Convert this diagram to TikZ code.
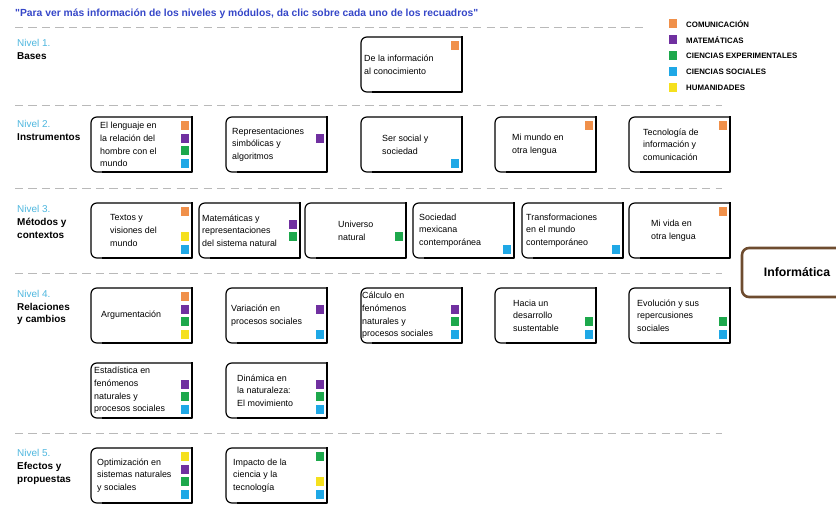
\documentclass[tikz,border=0pt]{standalone}
\usepackage{fontspec}
\setmainfont{Liberation Sans}
\definecolor{comunica}{HTML}{F0904A}
\definecolor{mate}{HTML}{7030A0}
\definecolor{expe}{HTML}{1DA84C}
\definecolor{soci}{HTML}{1FA8E6}
\definecolor{huma}{HTML}{F5E01E}
\definecolor{nivel}{HTML}{4DB6DE}
\definecolor{aviso}{HTML}{3546C8}
\definecolor{cafe}{HTML}{6E4C2F}

% module box: name, left, top, text indent, text, colour squares (slot/colour)
\newcommand{\modulo}[6]{%
  \draw[marco, rounded corners=5pt] (#2+101,#3) -- (#2,#3) -- (#2,#3+55) -- (#2+101,#3+55);
  \draw[marco, line width=1.8pt, line cap=rect] (#2+101,#3) -- (#2+101,#3+55) -- (#2+12,#3+55);
  \node[modtext] (#1) at (#2+#4,#3+27.5) {#5};
  \foreach \s/\col in {#6} \fill[\col] (#2+90,#3+4+12.7*\s) rectangle ++(8,9);
}

\begin{document}
\begin{tikzpicture}[x=0.03cm, y=-0.03cm, line join=round]
  \tikzset{marco/.style={line width=1pt, black},
    modtext/.style={anchor=west, align=left, inner sep=0pt, font=\fontsize{7.6}{10.8}\selectfont},
    nivlbl/.style={anchor=west, align=left, inner sep=0pt, font=\fontsize{8.5}{10.8}\selectfont},
    separador/.style={gray!55, line width=0.8pt, dash pattern=on 7pt off 4.5pt},
    leyenda/.style={anchor=west, inner sep=0pt, font=\fontsize{6.7}{8}\selectfont\bfseries}}
  \useasboundingbox (0,0) rectangle (836,513);

  % heading and separators
  \node[anchor=west, inner sep=0pt, text=aviso, font=\fontsize{8.8}{10}\selectfont\bfseries] (aviso) at (15,14)
    {\textquotedbl Para ver más información de los niveles y módulos, da clic sobre cada uno de los recuadros\textquotedbl};
  \draw[separador] (15,27) -- (648,27);
  \foreach \y in {105,188,273,433} \draw[separador] (15,\y) -- (722,\y);

  % legend
  \foreach \col/\txt [count=\i] in {comunica/COMUNICACIÓN, mate/MATEMÁTICAS,
      expe/CIENCIAS EXPERIMENTALES, soci/CIENCIAS SOCIALES, huma/HUMANIDADES} {
    \fill[\col] (669,8+16*\i-4.5) rectangle ++(8,9);
    \node[leyenda] (ley\i) at (686,8+16*\i) {\txt};
  }

  % level names
  \node[nivlbl] (niv1) at (17,49.5) {\textcolor{nivel}{Nivel 1.}\\ \textbf{Bases}};
  \node[nivlbl] (niv2) at (17,130.5) {\textcolor{nivel}{Nivel 2.}\\ \textbf{Instrumentos}};
  \node[nivlbl] (niv3) at (17,222) {\textcolor{nivel}{Nivel 3.}\\ \textbf{Métodos y}\\ \textbf{contextos}};
  \node[nivlbl] (niv4) at (17,307.5) {\textcolor{nivel}{Nivel 4.}\\ \textbf{Relaciones}\\ \textbf{y cambios}};
  \node[nivlbl] (niv5) at (17,467) {\textcolor{nivel}{Nivel 5.}\\ \textbf{Efectos y}\\ \textbf{propuestas}};

  % level 1
  \modulo{m11}{361}{37}{3}{De la información\\al conocimiento}{0/comunica}
  % level 2
  \modulo{m21}{91}{117}{9}{El lenguaje en\\la relación del\\hombre con el\\mundo}{0/comunica,1/mate,2/expe,3/soci}
  \modulo{m22}{226}{117}{6}{Representaciones\\simbólicas y\\algoritmos}{1/mate}
  \modulo{m23}{361}{117}{21}{Ser social y\\sociedad}{3/soci}
  \modulo{m24}{495}{117}{17}{Mi mundo en\\otra lengua}{0/comunica}
  \modulo{m25}{629}{117}{14}{Tecnología de\\información y\\comunicación}{0/comunica}
  % level 3
  \modulo{m31}{91}{203}{19}{Textos y\\visiones del\\mundo}{0/comunica,2/huma,3/soci}
  \modulo{m32}{199}{203}{3}{Matemáticas y\\representaciones\\del sistema natural}{1/mate,2/expe}
  \modulo{m33}{305}{203}{33}{Universo\\natural}{2/expe}
  \modulo{m34}{413}{203}{6}{Sociedad\\mexicana\\contemporánea}{3/soci}
  \modulo{m35}{522}{203}{4}{Transformaciones\\en el mundo\\contemporáneo}{3/soci}
  \modulo{m36}{629}{203}{22}{Mi vida en\\otra lengua}{0/comunica}
  % level 4
  \modulo{m41}{91}{288}{10}{Argumentación}{0/comunica,1/mate,2/expe,3/huma}
  \modulo{m42}{226}{288}{5}{Variación en\\procesos sociales}{1/mate,3/soci}
  \modulo{m43}{361}{288}{1}{Cálculo en\\fenómenos\\naturales y\\procesos sociales}{1/mate,2/expe,3/soci}
  \modulo{m44}{495}{288}{18}{Hacia un\\desarrollo\\sustentable}{2/expe,3/soci}
  \modulo{m45}{629}{288}{8}{Evolución y sus\\repercusiones\\sociales}{2/expe,3/soci}
  \modulo{m46}{91}{363}{3}{Estadística en\\fenómenos\\naturales y\\procesos sociales}{1/mate,2/expe,3/soci}
  \modulo{m47}{226}{363}{11}{Dinámica en\\la naturaleza:\\El movimiento}{1/mate,2/expe,3/soci}
  % level 5
  \modulo{m51}{91}{448}{6}{Optimización en\\sistemas naturales\\y sociales}{0/huma,1/mate,2/expe,3/soci}
  \modulo{m52}{226}{448}{7}{Impacto de la\\ciencia y la\\tecnología}{0/expe,2/huma,3/soci}

  % side box
  \draw[cafe, line width=2.2pt, rounded corners=6pt] (850,248) -- (742,248) -- (742,297) -- (850,297);
  \node[inner sep=0pt, font=\fontsize{10.5}{12}\selectfont\bfseries] (info) at (797,272) {Informática};
\end{tikzpicture}
\end{document}
